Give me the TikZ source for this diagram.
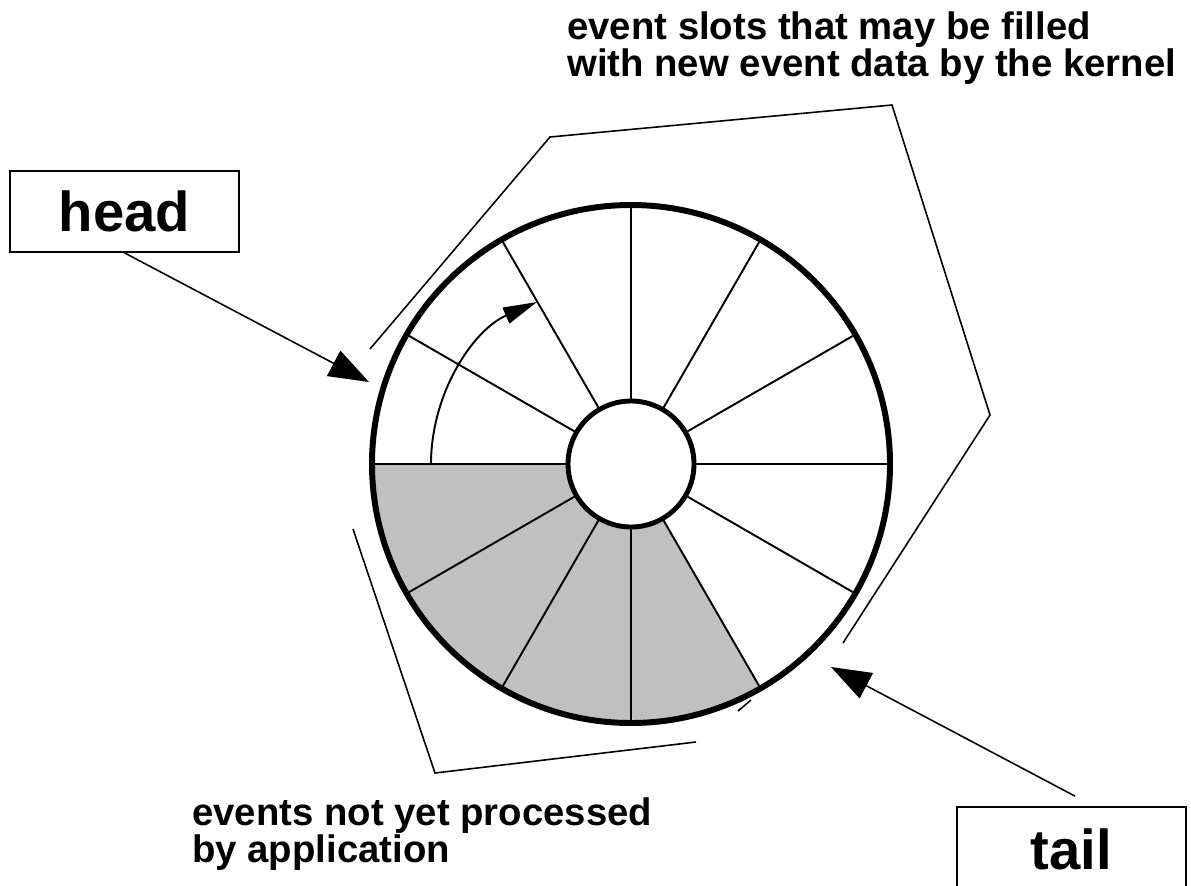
\documentclass[tikz,border=0pt]{standalone}
\usepackage{fontspec}
\setmainfont{Liberation Sans}
\usetikzlibrary{arrows.meta}
\definecolor{pendinggray}{RGB}{192,192,192}
\tikzset{
  rim/.style={line width=3.4pt},
  hub/.style={line width=2.8pt, fill=white},
  spoke/.style={line width=1.1pt},
  brace/.style={line width=0.9pt, line join=miter},
  ptrbox/.style={draw, line width=1pt, minimum width=4.58cm, inner sep=0pt,
    font=\fontsize{32}{38}\selectfont\bfseries},
  ptr/.style={line width=0.9pt, -{Triangle[length=0.8cm,width=0.57cm]}},
  turn/.style={line width=1.1pt, -{Triangle[length=0.68cm,width=0.34cm]}},
  caption/.style={align=left, inner sep=0pt,
    font=\fontsize{21.8}{21}\selectfont\bfseries}
}
\begin{document}
\begin{tikzpicture}[x=0.02cm,y=0.02cm]
\useasboundingbox (0,0) rectangle (1191,-886);
\clip (0,0) rectangle (1191,-886);

% ring buffer centre
\coordinate (c) at (631,-464);

% slots holding unprocessed events
\fill[pendinggray] ([shift={(180:259)}]c) arc[start angle=180,end angle=300,radius=259]
  -- ([shift={(300:63)}]c) arc[start angle=300,end angle=180,radius=63] -- cycle;

% slot separators
\foreach \a in {0,30,...,330}
  \draw[spoke] ([shift={(\a:63)}]c) -- ([shift={(\a:259)}]c);

% outer rim and hub
\draw[rim] (c) circle[radius=259];
\draw[hub] (c) circle[radius=63];

% direction of advance
\coordinate (turnstart) at (431,-464);
\draw[turn] (turnstart) arc[start angle=180,end angle=113.6,radius=176.8];

% brackets
\draw[brace] (370,-349) -- (550,-137) -- (892,-105) -- (990,-415) -- (843,-643);
\draw[brace] (353,-529) -- (435,-773) -- (696,-742);
\draw[brace] (738,-711) -- (751,-700);

% captions
\node[caption, anchor=north west] (freecap) at (567,-11)
  {event slots that may be filled\\with new event data by the kernel};
\node[caption, anchor=north west] (pendcap) at (192,-797)
  {events not yet processed\\by application};

% head and tail pointers
\node[ptrbox, minimum height=1.62cm] (head) at (124.5,-211.5) {head};
\node[ptrbox, minimum height=1.68cm] (tail) at (1071.5,-849) {tail};
\coordinate (headtip) at (369,-382);
\coordinate (tailtip) at (831,-667);
\draw[ptr] (head.south) -- (headtip);
\draw[ptr] ([shift={(3.5,10)}]tail.north) -- (tailtip);
\end{tikzpicture}
\end{document}
